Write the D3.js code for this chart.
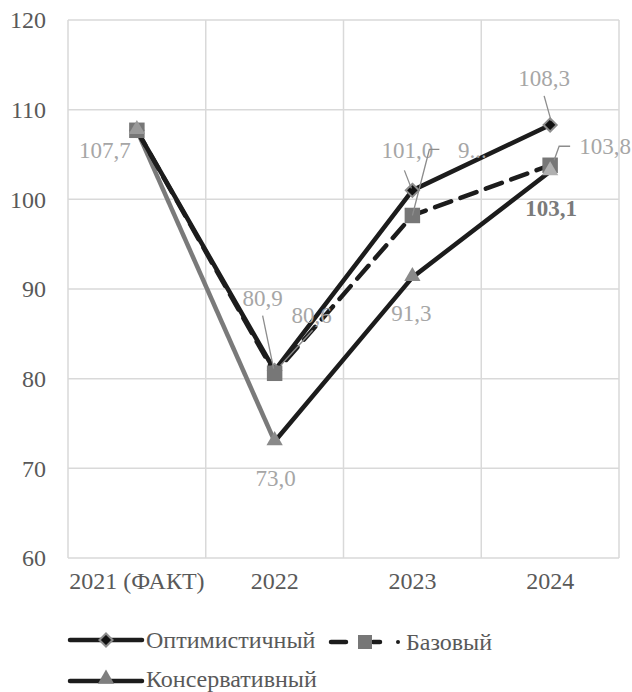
<!DOCTYPE html>
<html>
<head>
<meta charset="utf-8">
<script src="https://cdn.jsdelivr.net/npm/d3@7"></script>
<style>
  html, body { margin: 0; padding: 0; background: #fff; }
  svg { display: block; }
</style>
</head>
<body>
<svg id="chart" width="632" height="692"></svg>
<script>
// Categories and scenario values
const categories = ["2021 (ФАКТ)", "2022", "2023", "2024"];
const optimistic = [107.7, 80.9, 101.0, 108.3];
const base = [107.7, 80.6, 98.2, 103.8];
const conservative = [107.7, 73.0, 91.3, 103.1];
const yTicks = [60, 70, 80, 90, 100, 110, 120];
const seriesNames = ["Оптимистичный", "Базовый", "Консервативный"];

// Data label texts (one per point, null = no label)
const optimisticLabels = [null, "80,9", "101,0", "108,3"];
const baseLabels = [null, "80,6", "9...", "103,8"];
const conservativeLabels = ["107,7", "73,0", "91,3", "103,1"];

const plot = { left: 68, right: 619, top: 20, bottom: 558 };
const ink = "#1c1c1c";
const FONT = '"Liberation Serif", "Times New Roman", serif';

const svg = d3.select("#chart");

const x = d3.scaleBand().domain(categories).range([plot.left, plot.right]).padding(0);
const y = d3.scaleLinear().domain([60, 120]).range([plot.bottom, plot.top]);
const cx = c => x(c) + x.bandwidth() / 2;

// Gridlines
const grid = svg.append("g").attr("stroke", "#d9d9d9").attr("stroke-width", 1.5);
grid.selectAll("line.h").data(yTicks).join("line")
  .attr("x1", plot.left).attr("x2", plot.right)
  .attr("y1", d => y(d)).attr("y2", d => y(d));
const vBounds = categories.map(c => x(c)).concat([plot.right]);
grid.selectAll("line.v").data(vBounds).join("line")
  .attr("x1", d => d).attr("x2", d => d)
  .attr("y1", plot.top).attr("y2", plot.bottom);

// Y axis labels
const yAxis = d3.axisLeft(y).tickValues(yTicks).tickSize(0).tickPadding(22);
const yG = svg.append("g").attr("transform", `translate(${plot.left},0)`).call(yAxis);
yG.select(".domain").remove();
yG.selectAll("text").style("font-family", FONT).style("font-size", "24px").attr("fill", "#595959");

// X axis labels
const xAxis = d3.axisBottom(x).tickSize(0).tickPadding(14);
const xG = svg.append("g").attr("transform", `translate(0,${plot.bottom})`).call(xAxis);
xG.select(".domain").remove();
xG.selectAll("text").style("font-family", FONT).style("font-size", "24px").attr("fill", "#595959");

const lineAt = offset => d3.line().x((d, i) => cx(categories[i + offset])).y(d => y(d));

// Conservative: first (actual) segment in grey, forecast segments in black
svg.append("path").datum(conservative.slice(0, 2)).attr("d", lineAt(0))
  .attr("fill", "none").attr("stroke", "#7a7a7a").attr("stroke-width", 4.5);
svg.append("path").datum(conservative.slice(1)).attr("d", lineAt(1))
  .attr("fill", "none").attr("stroke", ink).attr("stroke-width", 4.5)
  .attr("stroke-linejoin", "round");

// Optimistic line
svg.append("path").datum(optimistic).attr("d", lineAt(0))
  .attr("fill", "none").attr("stroke", ink).attr("stroke-width", 4.5)
  .attr("stroke-linejoin", "round");

// Base line (dashed)
svg.append("path").datum(base).attr("d", lineAt(0))
  .attr("fill", "none").attr("stroke", ink).attr("stroke-width", 4.5)
  .attr("stroke-dasharray", "17,10").attr("stroke-linecap", "round");

// Markers
const diamond = d3.symbol().type(d3.symbolDiamond2).size(110);
const square = d3.symbol().type(d3.symbolSquare).size(240);
const triangle = d3.symbol().type(d3.symbolTriangle2).size(190);

svg.append("g").selectAll("path").data(optimistic).join("path")
  .attr("d", diamond)
  .attr("transform", (d, i) => `translate(${cx(categories[i])},${y(d)})`)
  .attr("fill", "#111").attr("stroke", "#8c8c8c").attr("stroke-width", 2);

svg.append("g").selectAll("path").data(base).join("path")
  .attr("d", square)
  .attr("transform", (d, i) => `translate(${cx(categories[i])},${y(d)})`)
  .attr("fill", "#777777");

const triFill = ["#9a9a9a", "#8a8a8a", "#8a8a8a", "#b0b0b0"];
svg.append("g").selectAll("path").data(conservative).join("path")
  .attr("d", triangle)
  .attr("transform", (d, i) => `translate(${cx(categories[i])},${y(d) - 1})`)
  .attr("fill", (d, i) => triFill[i]);

// Data labels with leader lines (offsets from the point)
const labelStyle = { size: 23, color: "#a6a6a6" };
const labelLayout = [
  [conservative, conservativeLabels, [
    { dx: -32, dy: 20 },
    { dx: 1, dy: 37 },
    { dx: -1, dy: 36 },
    { dx: 1, dy: 36, bold: true, color: "#7a7a7a" }
  ]],
  [optimistic, optimisticLabels, [
    null,
    { dx: -12, dy: -73, leader: [[-12, -55], [-1, -2]] },
    { dx: -5, dy: -40, leader: [[-8, -20], [-1, -2]] },
    { dx: -6, dy: -47, leader: [[-6, -29], [1, -4]] }
  ]],
  [base, baseLabels, [
    null,
    { dx: 37, dy: -58, leader: [[38, -43], [6, -8]] },
    { dx: 60, dy: -66, leader: [[27, -66], [17, -66], [0, 0]] },
    { dx: 29, dy: -19, anchor: "start", leader: [[20, -19], [9, -19], [4, -5]] }
  ]]
];

const labelsG = svg.append("g");
labelLayout.forEach(([vals, texts, lay]) => {
  vals.forEach((v, i) => {
    const L = lay[i];
    if (!L || texts[i] == null) return;
    const px = cx(categories[i]), py = y(v);
    if (L.leader) {
      labelsG.append("path")
        .attr("d", d3.line()(L.leader.map(p => [px + p[0], py + p[1]])))
        .attr("fill", "none").attr("stroke", "#8c8c8c").attr("stroke-width", 1.3);
    }
    labelsG.append("text")
      .attr("x", px + L.dx).attr("y", py + L.dy).attr("dy", "0.35em")
      .attr("text-anchor", L.anchor || "middle")
      .style("font-family", FONT)
      .style("font-size", labelStyle.size + "px")
      .style("font-weight", L.bold ? "bold" : "normal")
      .attr("fill", L.color || labelStyle.color)
      .text(texts[i]);
  });
});

// Legend
const legend = svg.append("g");
function legendText(xp, yp, t) {
  legend.append("text").attr("x", xp).attr("y", yp).attr("dy", "0.33em")
    .style("font-family", FONT).style("font-size", "24px").attr("fill", "#595959")
    .text(t);
}
// Optimistic entry
legend.append("line").attr("x1", 70).attr("x2", 142).attr("y1", 640).attr("y2", 640)
  .attr("stroke", ink).attr("stroke-width", 4.5).attr("stroke-linecap", "round");
legend.append("path").attr("d", diamond).attr("transform", "translate(106,640)")
  .attr("fill", "#111").attr("stroke", "#8c8c8c").attr("stroke-width", 2);
legendText(146, 640, seriesNames[0]);
// Base entry
legend.append("path").attr("d", "M331,642H346M373,642H380")
  .attr("stroke", ink).attr("stroke-width", 4.5).attr("stroke-linecap", "round");
legend.append("circle").attr("cx", 398).attr("cy", 642).attr("r", 2).attr("fill", ink);
legend.append("rect").attr("x", 358).attr("y", 635).attr("width", 14).attr("height", 14).attr("fill", "#777777");
legendText(406, 642, seriesNames[1]);
// Conservative entry
legend.append("line").attr("x1", 70).attr("x2", 142).attr("y1", 681).attr("y2", 681)
  .attr("stroke", ink).attr("stroke-width", 4.5).attr("stroke-linecap", "round");
legend.append("path").attr("d", triangle).attr("transform", "translate(106,679)")
  .attr("fill", "#7f7f7f");
legendText(146, 679, seriesNames[2]);
</script>
</body>
</html>
